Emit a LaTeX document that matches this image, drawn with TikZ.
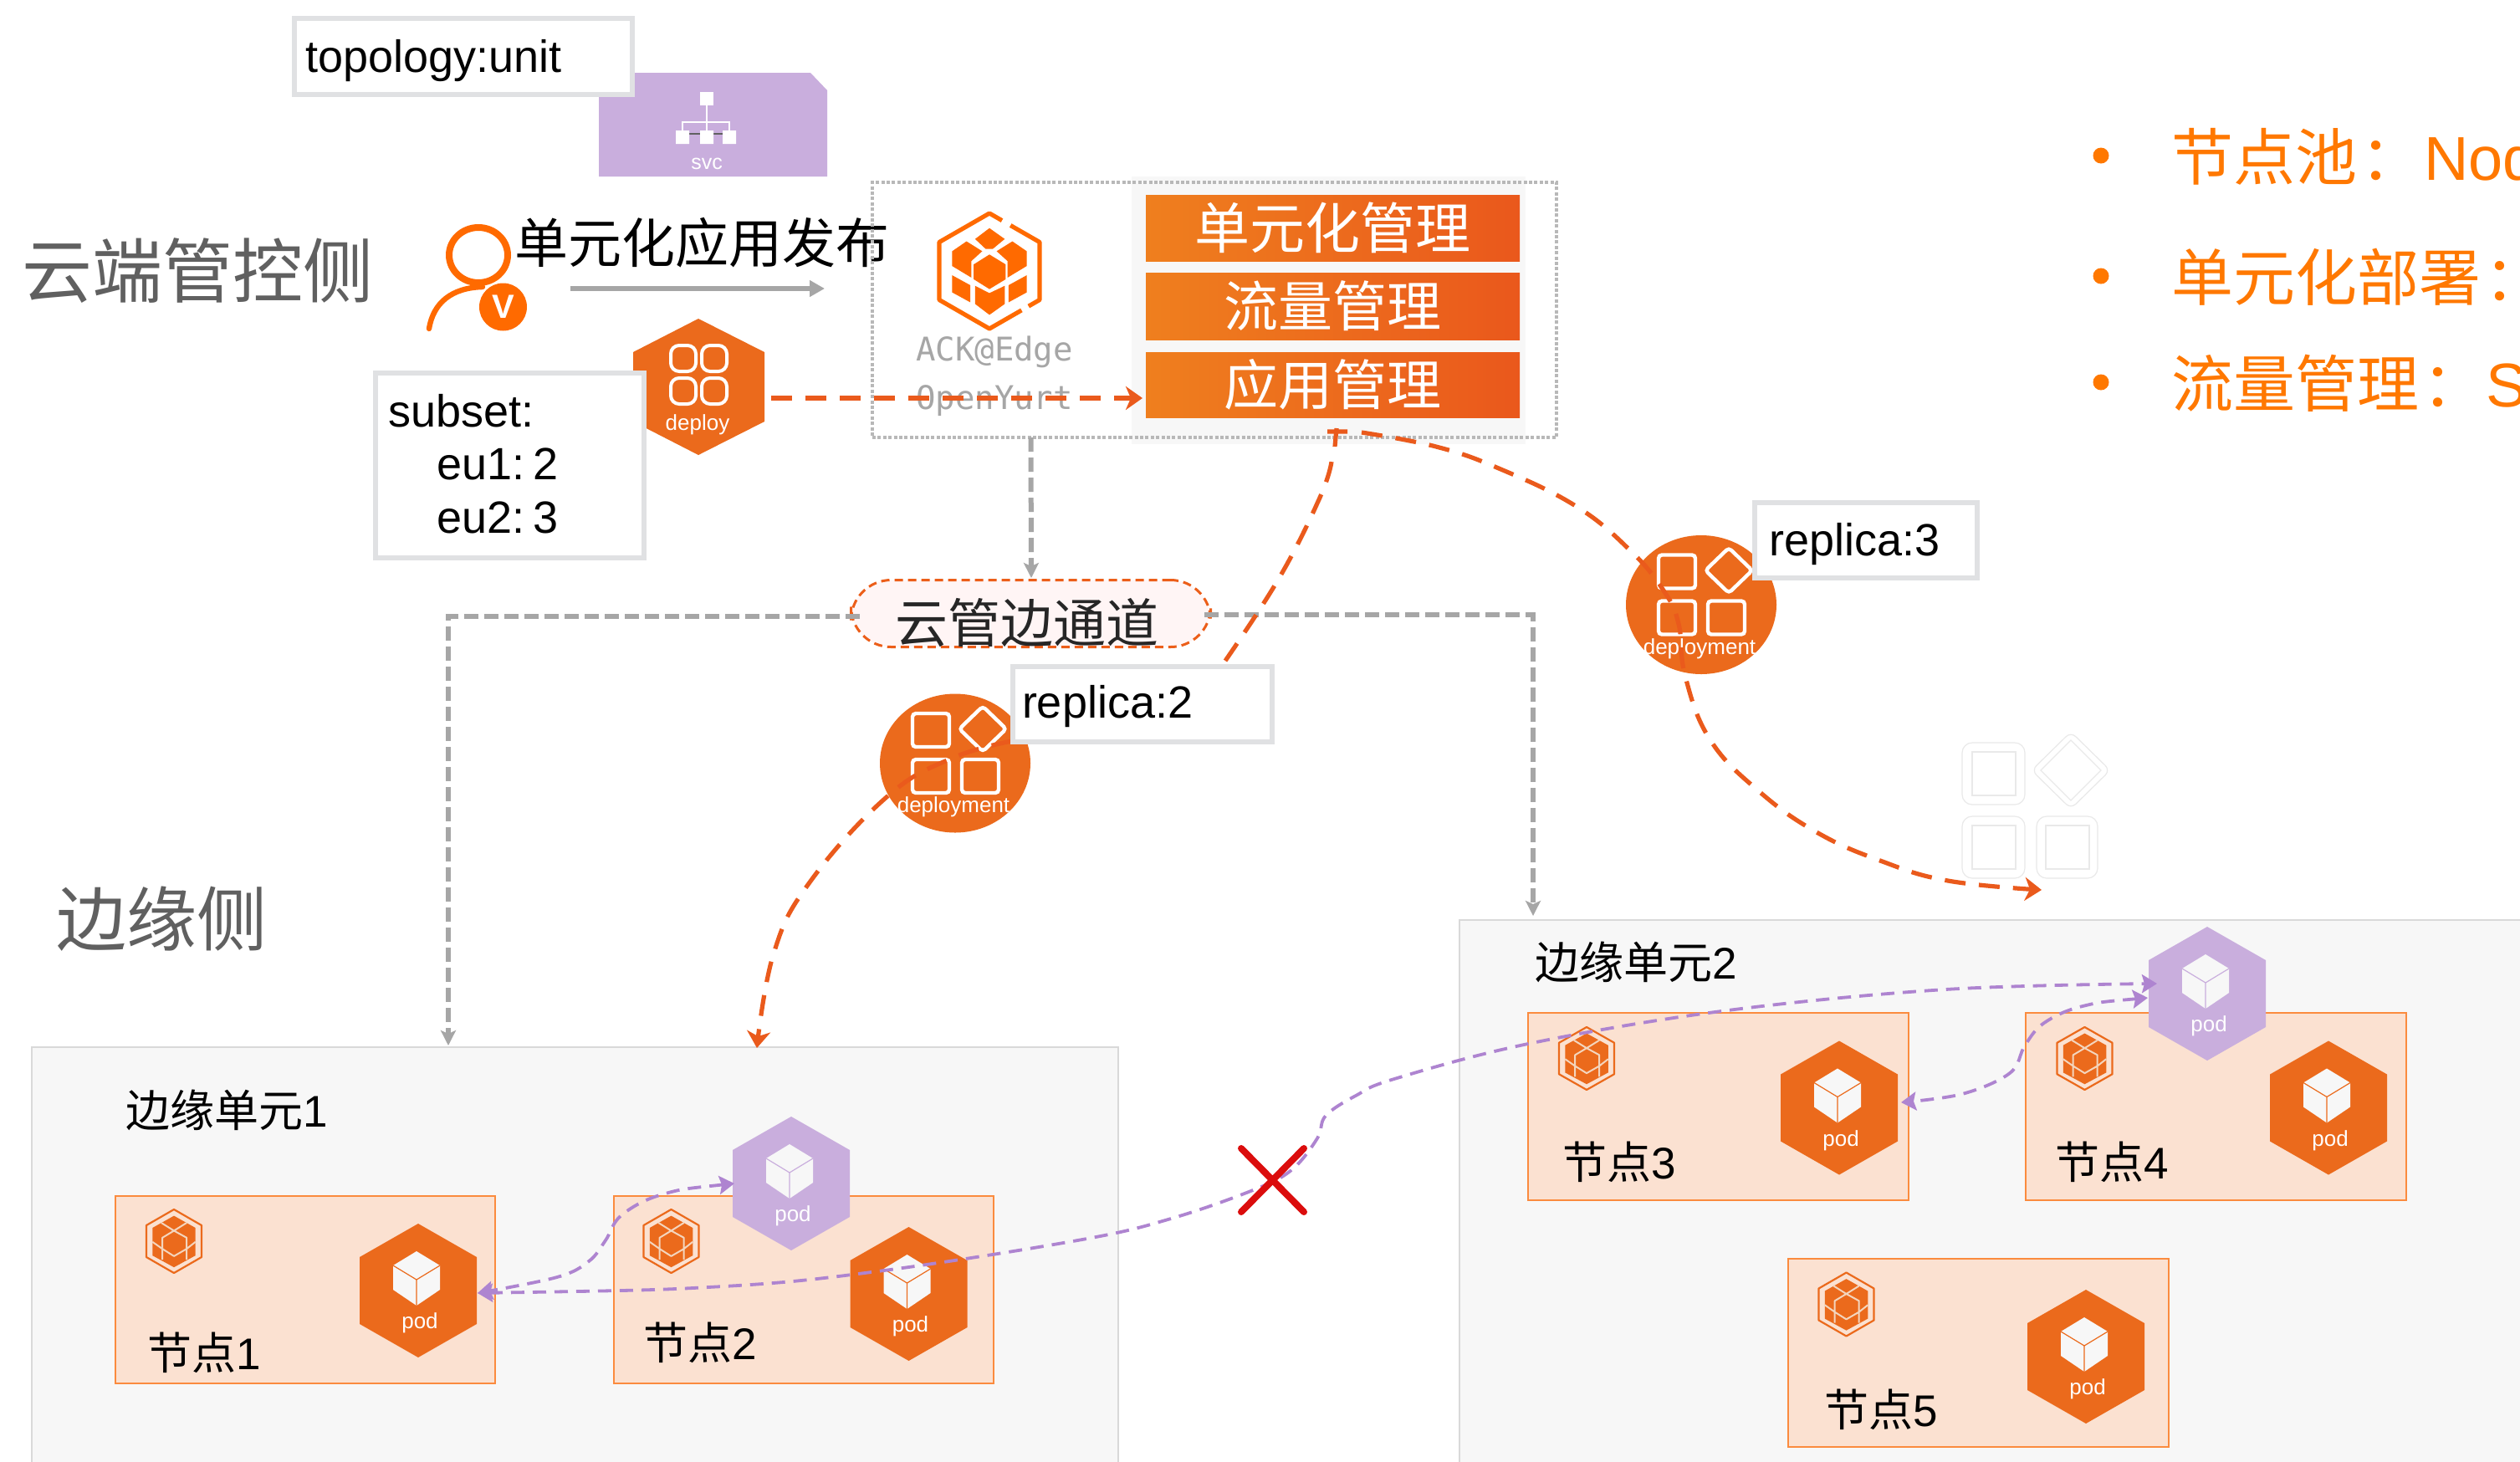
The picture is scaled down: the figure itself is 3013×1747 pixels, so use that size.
\documentclass[tikz,border=0pt]{standalone}
\usepackage{fontspec}
\setmainfont{Liberation Sans}
\newfontfamily\cjk{Noto Sans CJK SC}
\newfontfamily\monof{DejaVu Sans Mono}
\usetikzlibrary{arrows.meta,calc}
\definecolor{podorange}{HTML}{EB6A1C}
\definecolor{logoorange}{HTML}{FF6A00}
\definecolor{purplepod}{HTML}{C9AEDD}
\definecolor{purpleline}{HTML}{AE84D0}
\definecolor{redline}{HTML}{EA5A1C}
\definecolor{grayline}{HTML}{A6A6A6}
\definecolor{boxgray}{HTML}{E0E1E3}
\definecolor{panel}{HTML}{F7F7F7}
\definecolor{panelline}{HTML}{D9D9D9}
\definecolor{nodefill}{HTML}{FBE1D1}
\definecolor{nodeline}{HTML}{FB8B3E}
\definecolor{titlegray}{HTML}{606060}
\definecolor{bulletorange}{HTML}{FF7800}
\definecolor{barleft}{HTML}{EF7F1E}
\definecolor{barright}{HTML}{EA581C}
\definecolor{ghost}{HTML}{E9E9E9}
\definecolor{logoline}{HTML}{F3D5BD}
\tikzset{
  lbl/.style={inner sep=0pt,outer sep=0pt,anchor=west},
  whitebox/.style={draw=boxgray,line width=3pt,fill=white,inner sep=0pt,outer sep=0pt,anchor=north west},
  unitbox/.style={fill=panel,draw=panelline,line width=.8pt,inner sep=0pt,outer sep=0pt,anchor=north west},
  edgenode/.style={fill=nodefill,draw=nodeline,line width=.8pt,inner sep=0pt,outer sep=0pt,anchor=north west},
  barbox/.style={left color=barleft,right color=barright,inner sep=0pt,outer sep=0pt,anchor=north west,minimum width=223.5pt,text=white,font=\cjk\fontsize{33}{35}\selectfont},
  reddash/.style={draw=redline,line width=2.6pt,dash pattern=on 12.5pt off 8pt},
  purpledash/.style={draw=purpleline,line width=1.9pt,dash pattern=on 8pt off 5pt,{Stealth[length=9pt,width=11pt,inset=1.5pt,fill=purpleline]}-{Stealth[length=9pt,width=11pt,inset=1.5pt,fill=purpleline]}},
  graydash/.style={draw=grayline,line width=3pt,dash pattern=on 8.5pt off 3.5pt},
  redtip/.style={-{Stealth[length=10pt,width=14pt,inset=3pt]}},
  graytip/.style={-{Stealth[length=9pt,width=9pt,inset=2pt]}},
}
% large logo with separate cells
\newcommand{\cloudlogo}[5]{% name x y hw hh
\begin{scope}[shift={(#2,#3)},xscale=#4,yscale=#5]
  \node[inner sep=0pt,minimum size=0pt] (#1) at (0,0) {};
  \draw[logoorange,line width=2.6pt,line join=round] (.42,-.79)--(1,-.5)--(1,.5)--(.78,.61);
  \draw[logoorange,line width=2.6pt,line join=round] (.64,.68)--(0,1)--(-1,.5)--(-1,-.5)--(0,-1)--(.25,-.875);
  \fill[logoorange] (0,-.743)--(.305,-.554)--(.067,-.383)--(-.076,-.383)--(-.286,-.554)--cycle;
  \fill[logoorange] (-.457,-.514)--(-.143,-.343)--(-.362,-.171)--(-.362,.114)--(-.743,-.086)--(-.743,-.343)--cycle;
  \fill[logoorange] (.457,-.514)--(.143,-.343)--(.362,-.171)--(.362,.114)--(.743,-.086)--(.743,-.343)--cycle;
  \fill[logoorange] (0,-.286)--(.324,-.114)--(.324,.143)--(0,.314)--(-.314,.143)--(-.314,-.114)--cycle;
  \fill[logoorange] (-.743,.074)--(-.381,.246)--(-.381,.543)--(-.743,.371)--cycle;
  \fill[logoorange] (.743,.074)--(.381,.246)--(.381,.543)--(.743,.371)--cycle;
  \fill[logoorange] (0,.383)--(.305,.257)--(.305,.571)--(0,.76)--(-.286,.571)--(-.286,.257)--cycle;
\end{scope}}
% small logo in the edge nodes
\newcommand{\smalllogo}[5]{% name x y hw hh
\begin{scope}[shift={(#2,#3)},xscale=#4,yscale=#5]
  \node[inner sep=0pt,minimum size=0pt] (#1) at (0,0) {};
  \draw[podorange,line width=1.1pt,line join=round] (0,-1)--(1,-.5)--(1,.5)--(0,1)--(-1,.5)--(-1,-.5)--cycle;
  \fill[podorange] (0,-.8)--(.78,-.42)--(.78,.45)--(0,.82)--(-.78,.45)--(-.78,-.42)--cycle;
  \draw[logoline,line width=1pt,line join=round] (-.46,-.58)--(0,-.33)--(.46,-.58) (0,-.33)--(.46,-.11)--(.46,.58) (0,-.33)--(-.42,-.11)--(-.42,.58) (-.78,.02)--(-.42,.24)--(0,.47)--(.46,.24)--(.78,.02);
\end{scope}}
% pod hexagon: name x y half-height colour
\newcommand{\podnode}[5]{%
\begin{scope}[shift={(#2,#3)},yscale=#4/80]
  \fill[#5] (0,-80)--(70,-40)--(70,40)--(0,80)--(-70,40)--(-70,-40)--cycle;
  \fill[panel] (-2,-47)--(26,-30)--(26,-1)--(-2,18)--(-30,-1)--(-30,-30)--cycle;
  \draw[#5,line width=.6pt] (-30,-30)--(-2,-13)--(26,-30) (-2,-13)--(-2,18);
  \node[inner sep=0pt,outer sep=0pt,text=white,font=\fontsize{13}{13}\selectfont] (#1) at (2,39) {pod};
\end{scope}}
% deployment: name x y
\newcommand{\deploynode}[3]{%
\begin{scope}[shift={(#2,#3)}]
  \fill[podorange] (0,0) ellipse [x radius=90,y radius=83];
  \draw[white,line width=2.2pt,rounded corners=2pt] (-51,-59.5) rectangle (-7,-19.5);
  \draw[white,line width=2.2pt,rounded corners=2pt] (-51,-4.5) rectangle (-7,35.5);
  \draw[white,line width=2.2pt,rounded corners=2pt] (8,-4.5) rectangle (52,35.5);
  \draw[white,line width=2.2pt,rounded corners=2pt] (33,-68)--(61,-41)--(33,-14)--(5,-41)--cycle;
  \node[inner sep=0pt,outer sep=0pt,text=white,font=\fontsize{13}{13}\selectfont] (#1) at (-2,52.5) {deployment};
\end{scope}}
\begin{document}
\begin{tikzpicture}[x=.5pt,y=-.5pt]
\useasboundingbox (0,0) rectangle (3013,1747);
\clip (0,0) rectangle (3013,1747);
\fill[white] (0,0) rectangle (3013,1747);
\fontsize{27}{30}\selectfont

% svc
\fill[purplepod] (716,87)--(969,87)--(989,108)--(989,211)--(716,211)--cycle;
\fill[white] (837,110) rectangle (853,126);
\draw[white,line width=.8pt] (845,126)--(845,158) (816,158)--(816,146)--(872,146)--(872,158);
\draw[titlegray,line width=1pt] (816,160)--(872,160);
\fill[white] (808,156) rectangle (824,172) (837,156) rectangle (853,172) (864,156) rectangle (880,172);
\node[inner sep=0pt,text=white,font=\fontsize{12.5}{13}\selectfont] (svc) at (845,196) {svc};

% topology
\node[whitebox,minimum width=202pt,minimum height=45.5pt] (topo) at (352,22) {};
\node[lbl] (topotext) at (365,73) {topology:unit};

% titles
\node[lbl,text=titlegray,font=\cjk\fontsize{42}{44}\selectfont] (cloud) at (26,324) {云端管控侧};
\node[lbl,text=titlegray,font=\cjk\fontsize{42}{44}\selectfont] (edge) at (67,1099) {边缘侧};

% user
\draw[logoorange,line width=4pt] (572,305) ellipse [x radius=35,y radius=33];
\draw[logoorange,line width=3.2pt,line cap=round] (513,393) .. controls (518,362) and (540,344) .. (577,343);
\fill[logoorange] (601.5,367) circle [radius=28.5];
\node[inner sep=0pt,text=white,font=\bfseries\fontsize{20}{20}\selectfont] (vbadge) at (601.5,367) {V};

\node[lbl,font=\cjk\fontsize{32}{36}\selectfont] (pub) at (615,290) {单元化应用发布};
\coordinate (pubs) at (682,345);
\coordinate (pube) at (986,345);
\draw[grayline,line width=3pt,-{Triangle[length=9pt,width=9.5pt]}] (pubs)--(pube);

% deploy hexagon
\fill[podorange] (835,381)--(914,421)--(914,504)--(835,544)--(757,504)--(757,421)--cycle;
\draw[white,line width=2pt,rounded corners=5pt] (802,413) rectangle (832,444) (839,413) rectangle (869,444) (802,452) rectangle (832,483) (839,452) rectangle (869,483);
\node[inner sep=0pt,outer sep=0pt,text=white,font=\fontsize{13}{13}\selectfont] (deploy) at (834,508) {deploy};

% subset
\node[whitebox,minimum width=160.5pt,minimum height=110.5pt] (subset) at (449,446) {};
\node[lbl] (subtext) at (464,491) {subset:};
\node[lbl] (eu1) at (522,555) {eu1:\kern-2.3pt\ 2};
\node[lbl] (eu2) at (522,619) {eu2:\kern-2.3pt\ 3};

% control plane
\fill[panel] (1353,211) rectangle (1824,531);
\node[draw=grayline!80,line width=2pt,dash pattern=on 2pt off 1.2pt,inner sep=0pt,outer sep=0pt,anchor=north west,minimum width=409pt,minimum height=152.5pt] (ctrl) at (1043,218) {};
\cloudlogo{bigl}{1183}{324}{60}{69}
\node[inner sep=0pt,text=grayline,font=\monof\fontsize{19.5}{20}\selectfont] (ack) at (1189,421) {ACK@Edge};
\node[inner sep=0pt,text=grayline,font=\monof\fontsize{19.5}{20}\selectfont] (yurt) at (1189,479) {OpenYurt};
\node[barbox,minimum height=39.5pt] (b1) at (1370,233) {\raisebox{1pt}{单元化管理}};
\node[barbox,minimum height=40pt,font=\cjk\fontsize{32.5}{35}\selectfont] (b2) at (1370,326) {流量管理};
\node[barbox,minimum height=39pt,font=\cjk\fontsize{32.5}{35}\selectfont] (b3) at (1370,421) {应用管理};

% units
\node[unitbox,minimum width=649.5pt,minimum height=260pt] (u1) at (38,1252) {};
\node[unitbox,minimum width=700pt,minimum height=340pt] (u2) at (1745,1100) {};
\node[lbl,font=\cjk\fontsize{26.5}{28}\selectfont] (u1t) at (150,1327) {边缘单元{\rmfamily 1}};
\node[lbl,font=\cjk\fontsize{26.5}{28}\selectfont] (u2t) at (1835,1150) {边缘单元{\rmfamily 2}};

% edge nodes
\node[edgenode,minimum width=227pt,minimum height=112pt] (n1) at (138,1430) {};
\node[edgenode,minimum width=227pt,minimum height=112pt] (n2) at (734,1430) {};
\node[edgenode,minimum width=227.5pt,minimum height=112pt] (n3) at (1827,1211) {};
\node[edgenode,minimum width=227.5pt,minimum height=112pt] (n4) at (2422,1211) {};
\node[edgenode,minimum width=227.5pt,minimum height=112.5pt] (n5) at (2138,1505) {};
\node[lbl,font=\cjk\fontsize{26.5}{28}\selectfont] (n1t) at (176,1617) {节点{\rmfamily 1}};
\node[lbl,font=\cjk\fontsize{26.5}{28}\selectfont] (n2t) at (769,1605) {节点{\rmfamily 2}};
\node[lbl,font=\cjk\fontsize{26.5}{28}\selectfont] (n3t) at (1868,1389) {节点{\rmfamily 3}};
\node[lbl,font=\cjk\fontsize{26.5}{28}\selectfont] (n4t) at (2457,1389) {节点{\rmfamily 4}};
\node[lbl,font=\cjk\fontsize{26.5}{28}\selectfont] (n5t) at (2181,1685) {节点{\rmfamily 5}};
\smalllogo{l1}{208}{1484}{33}{38}
\smalllogo{l2}{802.5}{1484}{33}{38}
\smalllogo{l3}{1897}{1265.5}{33}{37.5}
\smalllogo{l4}{2492.5}{1265.5}{33}{37.5}
\smalllogo{l5}{2207.5}{1559.5}{33}{38}
\podnode{p1}{500}{1543}{80}{podorange}
\podnode{p2}{1086.5}{1547}{80}{podorange}
\podnode{p2v}{946}{1415}{80}{purplepod}
\podnode{p3}{2199}{1324.5}{80}{podorange}
\podnode{p4}{2784}{1324.5}{80}{podorange}
\podnode{p5}{2494}{1622}{80}{podorange}
\podnode{p4v}{2639}{1188}{80}{purplepod}

% ghost deployment
\begin{scope}[draw=ghost,line width=.6pt]
\draw[rounded corners=6pt] (2346,888) rectangle (2421,962);
\draw (2358,899) rectangle (2410,951);
\draw[rounded corners=6pt] (2346,976) rectangle (2421,1050);
\draw (2358,987) rectangle (2410,1039);
\draw[rounded corners=6pt] (2435,976) rectangle (2508,1050);
\draw (2446,987) rectangle (2498,1039);
\draw[rounded corners=4pt] (2476,875)--(2523,921)--(2476,967)--(2429,921)--cycle;
\draw (2476,885)--(2512,921)--(2476,957)--(2440,921)--cycle;
\end{scope}
\node[inner sep=0pt,minimum size=0pt] (ghosttip) at (2441,1064) {};

% deployments
\deploynode{d2}{1142}{912.5}
\deploynode{d3}{2034}{723}

% tunnel pill
\node[draw=redline!90!orange,fill=red!4!white,line width=1.5pt,dash pattern=on 5pt off 3pt,rounded corners=24pt,inner sep=0pt,outer sep=0pt,minimum width=215pt,minimum height=40pt] (pill) at (1232.5,733.5) {};
\coordinate (pilll) at (1028,737);
\coordinate (corl) at (536,737);
\coordinate (u1in) at (536,1250);
\coordinate (pillr) at (1440,735);
\coordinate (corr) at (1833,735);
\coordinate (u2in) at (1833,1095);
\coordinate (ctrlb) at (1232.5,523);
\coordinate (pillt) at (1233,691);
\draw[graydash,graytip] (ctrlb)--(pillt);
\draw[graydash,graytip] (pilll)--(corl)--(u1in);
\draw[graydash,graytip] (pillr)--(corr)--(u2in);
\node[inner sep=0pt,text=black!85,font=\cjk\fontsize{31.5}{34}\selectfont] (pillt2) at (1228,745) {云管边通道};

% lower part of the replica:2 connector, under the box
\coordinate (r2left) at (1210,886);
\coordinate (u1top) at (905,1253);
\draw[reddash,redtip] plot[smooth,tension=.7] coordinates {(r2left) (1137,907) (1060,953) (968,1055) (925,1140) (u1top)};

% replica boxes
\node[whitebox,minimum width=155pt,minimum height=45pt] (r2) at (1211,797) {};
\node[lbl] (r2t) at (1222,845) {replica:2};
\node[whitebox,minimum width=133pt,minimum height=45pt] (r3) at (2098,601) {};
\node[lbl] (r3t) at (2115,651) {replica:3};

% orange connectors
\coordinate (deps) at (922,476);
\coordinate (depe) at (1366,476);
\draw[reddash,redtip] (deps)--(depe);
\coordinate (barend) at (1592,552);
\coordinate (bart) at (1598,512);
\coordinate (stem) at (1596,534);
\coordinate (barl) at (1587,516);
\coordinate (barr2) at (1611,516);
\coordinate (r2top) at (1465,790);
\coordinate (barr) at (1628,517);
\draw[reddash] plot[smooth,tension=.7] coordinates {(r2top) (1530,690) (1578,595) (barend)};
\draw[redline,line width=2.6pt] (bart)--(stem) (barl)--(barr2);
\draw[reddash,redtip] plot[smooth,tension=.7] coordinates {(barr) (1717,534) (1792,560) (1884,605) (1949,658) (1989,706) (2007,746) (2015,809) (2045,885) (2103,946) (2172,995) (2248,1029) (2329,1053) (ghosttip)};

% purple connectors
\coordinate (p1east) at (571,1546);
\coordinate (p2vw) at (878,1415);
\coordinate (p3east) at (2273,1318);
\coordinate (p4vw) at (2568,1193);
\coordinate (p4vw2) at (2579,1176);
\draw[purpledash] plot[smooth,tension=.6] coordinates {(p2vw) (792,1428) (743,1453) (724,1483) (704,1508) (666,1527) (p1east)};
\draw[purpledash] plot[smooth,tension=.6] coordinates {(p4vw) (2490,1203) (2444,1223) (2421,1250) (2403,1283) (2346,1308) (p3east)};
\draw[purpledash] plot[smooth,tension=.6] coordinates {(p1east) (865,1538) (1057,1519) (1294,1482) (1400,1457) (1498,1423) (1544,1399) (1575,1361) (1585,1334) (1621,1310) (1667,1290) (1827,1248) (2058,1209) (2326,1183) (p4vw2)};

% red X
\coordinate (xa) at (1484,1373);
\coordinate (xb) at (1559,1449);
\coordinate (xc) at (1559,1373);
\coordinate (xd) at (1484,1449);
\draw[red!85!black!95,line width=4pt,line cap=round] (xa)--(xb) (xc)--(xd);

% bullets
\fill[bulletorange] (2512,186) circle [radius=9.5] (2512,330) circle [radius=9.5] (2512,457) circle [radius=9.5];
\node[lbl,text=bulletorange,font=\cjk\fontsize{37}{40}\selectfont] (tb1) at (2596,187) {节点池\kern2pt：\kern1pt{\rmfamily Nod}};
\node[lbl,text=bulletorange,font=\cjk\fontsize{37}{40}\selectfont] (tb2) at (2596,331) {单元化部署\kern2pt：};
\node[lbl,text=bulletorange,font=\cjk\fontsize{37}{40}\selectfont] (tb3) at (2596,458) {流量管理\kern2pt：\kern1pt{\rmfamily S}};
\end{tikzpicture}
\end{document}
